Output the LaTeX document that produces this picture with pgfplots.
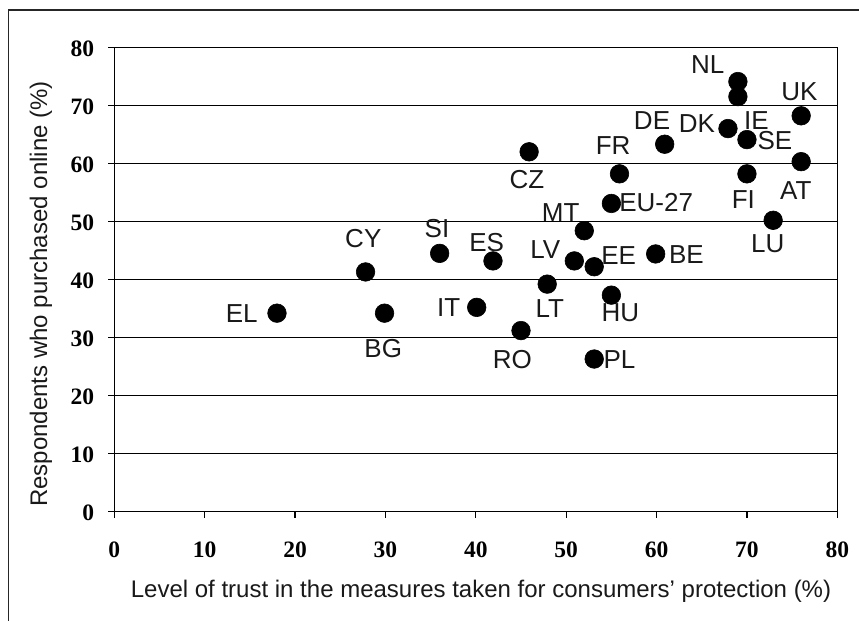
\documentclass[border=0pt]{standalone}
\usepackage{pgfplots}
\pgfplotsset{compat=1.18}
\usepackage{fontspec}
\setmainfont{Liberation Sans}
\newfontfamily\tickfont{Liberation Serif}
\tikzset{lab/.style={font=\fontsize{26bp}{26bp}\selectfont, inner sep=0pt, anchor=center, text=black!90}}

\pgfplotstableread{
x y
18.0 34.2
27.8 41.3
29.9 34.2
36.0 44.5
40.1 35.2
41.9 43.2
45.0 31.2
45.9 62.0
47.9 39.2
50.9 43.2
52.0 48.4
53.1 42.2
53.1 26.3
55.0 53.1
55.0 37.3
55.9 58.2
59.9 44.4
60.9 63.3
67.9 66.0
69.0 74.1
69.0 71.5
70.0 64.1
70.0 58.2
72.9 50.2
76.0 68.2
76.0 60.3
}\datatable

\begin{document}
\begin{tikzpicture}[x=1bp,y=1bp]
\useasboundingbox (0,0) rectangle (859,621);
\draw[line width=1.6bp, black!85] (8.3,0) -- (8.3,611) -- (859,611);
\begin{axis}[
  at={(114.3bp,109.3bp)}, anchor=south west,
  scale only axis, width=723bp, height=464.4bp,
  xmin=0, xmax=80, ymin=0, ymax=80,
  xtick={0,10,...,80}, ytick={0,10,...,80},
  ymajorgrids,
  major grid style={black, line width=1.2bp},
  axis line style={black, line width=1.2bp},
  tick style={black, line width=1.2bp},
  tick align=outside, major tick length=6bp,
  xtick pos=left, ytick pos=left,
  /pgf/number format/assume math mode=true,
  ticklabel style={font=\fontsize{23.5bp}{23.5bp}\tickfont\bfseries},
  xticklabel style={anchor=north, inner sep=0pt, yshift=-24bp},
  yticklabel style={anchor=east, inner sep=0pt, xshift=-14bp, yshift=-1.5bp},
  clip=false,
]
\node[lab] at (axis cs:65.65,77.1) {NL};
\node[lab] at (axis cs:75.8,72.3) {UK};
\node[lab] at (axis cs:59.5,67.3) {DE};
\node[lab] at (axis cs:64.46,66.9) {DK};
\node[lab] at (axis cs:71.06,67.45) {IE};
\node[lab] at (axis cs:73.1,63.9) {SE};
\node[lab] at (axis cs:55.2,63.05) {FR};
\node[lab] at (axis cs:45.65,57.2) {CZ};
\node[lab] at (axis cs:75.4,55.3) {AT};
\node[lab] at (axis cs:69.6,53.7) {FI};
\node[lab] at (axis cs:59.96,53.27) {EU-27};
\node[lab] at (axis cs:49.4,51.5) {MT};
\node[lab] at (axis cs:72.3,46.2) {LU};
\node[lab] at (axis cs:35.7,48.7) {SI};
\node[lab] at (axis cs:27.55,47.06) {CY};
\node[lab] at (axis cs:41.2,46.4) {ES};
\node[lab] at (axis cs:47.7,45.1) {LV};
\node[lab] at (axis cs:55.8,44.1) {EE};
\node[lab] at (axis cs:63.3,44.3) {BE};
\node[lab] at (axis cs:14.1,34.2) {EL};
\node[lab] at (axis cs:37.0,35.2) {IT};
\node[lab] at (axis cs:48.2,35.0) {LT};
\node[lab] at (axis cs:56.0,34.3) {HU};
\node[lab] at (axis cs:29.76,28.1) {BG};
\node[lab] at (axis cs:44.05,26.2) {RO};
\node[lab] at (axis cs:55.9,26.2) {PL};
\addplot[only marks, mark=*, mark size=9.3bp,
  mark options={fill=black, draw=black, line width=0.6bp}] table[x=x,y=y] {\datatable};
\end{axis}
\node[font=\fontsize{24bp}{24bp}\selectfont, anchor=base, inner sep=0pt, text=black!90] at (481,23)
  {Level of trust in the measures taken for consumers' protection (\%)};
\node[font=\fontsize{24bp}{24bp}\selectfont, anchor=base, inner sep=0pt, rotate=90, text=black!90] at (47,327)
  {Respondents who purchased online (\%)};
\end{tikzpicture}
\end{document}
